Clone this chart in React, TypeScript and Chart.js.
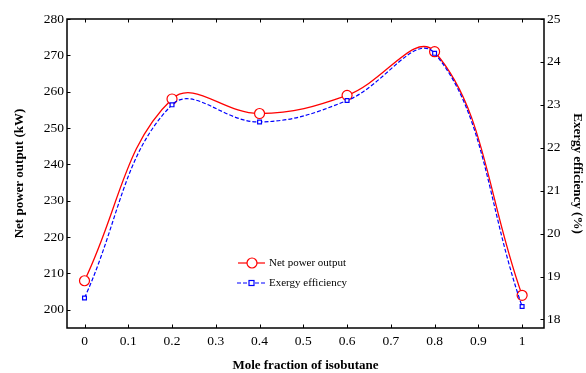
import React, { useEffect, useRef } from "react";
import { Chart, registerables } from "chart.js";

Chart.register(...registerables);

const xValues = [0, 0.2, 0.4, 0.6, 0.8, 1.0];
const netPower = [208, 258, 254, 259, 271, 204];
const exergyEff = [18.5, 23.0, 22.6, 23.1, 24.2, 18.3];
const xTicks = [0, 0.1, 0.2, 0.3, 0.4, 0.5, 0.6, 0.7, 0.8, 0.9, 1];
const leftTicks = [200, 210, 220, 230, 240, 250, 260, 270, 280];
const rightTicks = [18, 19, 20, 21, 22, 23, 24, 25];
const seriesNames = ["Net power output", "Exergy efficiency"];
const xTitle = "Mole fraction of isobutane";
const leftTitle = "Net power output (kW)";
const rightTitle = "Exergy efficiency (%)";

const FONT = "'Liberation Serif', 'Times New Roman', serif";
const RED = "#ff0000";
const BLUE = "#0000ff";

const framePlugin = {
  id: "framePlugin",
  afterDraw(chart: any) {
    const { ctx, chartArea } = chart;
    const { left, right, top, bottom } = chartArea;
    const xs = chart.scales.x;
    const yl = chart.scales.y;
    const yr = chart.scales.y2;
    ctx.save();
    ctx.strokeStyle = "#000";
    ctx.lineWidth = 1.5;
    ctx.strokeRect(left, top, right - left, bottom - top);
    ctx.lineWidth = 1;
    const tl = 3.5;
    ctx.beginPath();
    xTicks.forEach((v) => {
      const px = Math.round(xs.getPixelForValue(v)) + 0.5;
      ctx.moveTo(px, bottom);
      ctx.lineTo(px, bottom - tl);
      ctx.moveTo(px, top);
      ctx.lineTo(px, top + tl);
    });
    leftTicks.forEach((v) => {
      const py = Math.round(yl.getPixelForValue(v)) + 0.5;
      ctx.moveTo(left, py);
      ctx.lineTo(left + tl, py);
    });
    rightTicks.forEach((v) => {
      const py = Math.round(yr.getPixelForValue(v)) + 0.5;
      ctx.moveTo(right, py);
      ctx.lineTo(right - tl, py);
    });
    ctx.stroke();

    // legend inside plot
    const lx = left + 171;
    const ly1 = top + 244;
    const ly2 = top + 264;
    ctx.font = `11px ${FONT}`;
    ctx.textBaseline = "middle";
    ctx.fillStyle = "#000";
    // red
    ctx.strokeStyle = RED;
    ctx.lineWidth = 1.2;
    ctx.setLineDash([]);
    ctx.beginPath();
    ctx.moveTo(lx, ly1);
    ctx.lineTo(lx + 27, ly1);
    ctx.stroke();
    ctx.beginPath();
    ctx.arc(lx + 14, ly1, 5, 0, Math.PI * 2);
    ctx.fillStyle = "#fff";
    ctx.fill();
    ctx.stroke();
    // blue
    ctx.strokeStyle = BLUE;
    ctx.setLineDash([4, 2]);
    ctx.beginPath();
    ctx.moveTo(lx - 1, ly2);
    ctx.lineTo(lx + 27, ly2);
    ctx.stroke();
    ctx.setLineDash([]);
    ctx.fillStyle = "#fff";
    ctx.fillRect(lx + 11, ly2 - 2.5, 5, 5);
    ctx.strokeRect(lx + 11, ly2 - 2.5, 5, 5);
    ctx.fillStyle = "#000";
    ctx.textAlign = "left";
    ctx.fillText(seriesNames[0], lx + 31, ly1);
    ctx.fillText(seriesNames[1], lx + 31, ly2);
    ctx.restore();
  },
};

export default function App() {
  const ref = useRef<HTMLCanvasElement | null>(null);
  useEffect(() => {
    if (!ref.current) return;
    Chart.defaults.font.family = FONT;
    Chart.defaults.color = "#000";
    const chart = new Chart(ref.current, {
      type: "line",
      data: {
        datasets: [
          {
            label: seriesNames[0],
            data: xValues.map((x, i) => ({ x, y: netPower[i] })),
            yAxisID: "y",
            borderColor: RED,
            borderWidth: 1.3,
            backgroundColor: "#fff",
            pointBackgroundColor: "#fff",
            pointBorderColor: RED,
            pointBorderWidth: 1.2,
            pointRadius: 5,
            pointStyle: "circle",
            tension: 0.4,
            order: 2,
          },
          {
            label: seriesNames[1],
            data: xValues.map((x, i) => ({ x, y: exergyEff[i] })),
            yAxisID: "y2",
            borderColor: BLUE,
            borderWidth: 1.2,
            borderDash: [4, 2],
            backgroundColor: "#fff",
            pointBackgroundColor: "#fff",
            pointBorderColor: BLUE,
            pointBorderWidth: 1.2,
            pointRadius: 2.7,
            pointStyle: "rect",
            tension: 0.4,
            order: 1,
          },
        ],
      },
      options: {
        responsive: false,
        animation: false,
        devicePixelRatio: 1,
        layout: { padding: { top: 19, left: 0, right: 0, bottom: 0 } },
        plugins: {
          legend: { display: false },
          tooltip: { enabled: false },
        },
        scales: {
          x: {
            type: "linear",
            min: -0.04,
            max: 1.05,
            grid: { display: false, drawTicks: false },
            border: { display: false },
            afterBuildTicks: (s: any) => {
              s.ticks = xTicks.map((v) => ({ value: v }));
            },
            afterFit: (s: any) => {
              s.height = 45;
            },
            ticks: {
              padding: 5,
              font: { size: 13.5 },
              callback: (v: any) => String(Number(Number(v).toFixed(1))),
            },
            title: {
              display: true,
              text: xTitle,
              font: { size: 13, weight: "bold" },
              padding: { top: 0, bottom: 0 },
            },
          },
          y: {
            type: "linear",
            position: "left",
            min: 195,
            max: 280,
            grid: { display: false, drawTicks: false },
            border: { display: false },
            afterBuildTicks: (s: any) => {
              s.ticks = leftTicks.map((v) => ({ value: v }));
            },
            afterFit: (s: any) => {
              s.width = 67;
            },
            ticks: { padding: 3, font: { size: 13.5 } },
            title: {
              display: true,
              text: leftTitle,
              font: { size: 13, weight: "bold" },
              padding: { top: 12, bottom: 0 },
            },
          },
          y2: {
            type: "linear",
            position: "right",
            min: 17.8,
            max: 25,
            grid: { display: false, drawTicks: false },
            border: { display: false },
            afterBuildTicks: (s: any) => {
              s.ticks = rightTicks.map((v) => ({ value: v }));
            },
            afterFit: (s: any) => {
              s.width = 42;
            },
            ticks: { padding: 3, font: { size: 13.5 } },
            title: {
              display: true,
              text: rightTitle,
              font: { size: 13, weight: "bold" },
              padding: { top: 1, bottom: 0 },
            },
          },
        },
      },
      plugins: [framePlugin],
    } as any);
    return () => chart.destroy();
  }, []);
  return (
    <div style={{ position: "absolute", left: 0, top: 0, width: 586, height: 373, background: "#fff" }}>
      <canvas ref={ref} width={586} height={373} />
    </div>
  );
}
